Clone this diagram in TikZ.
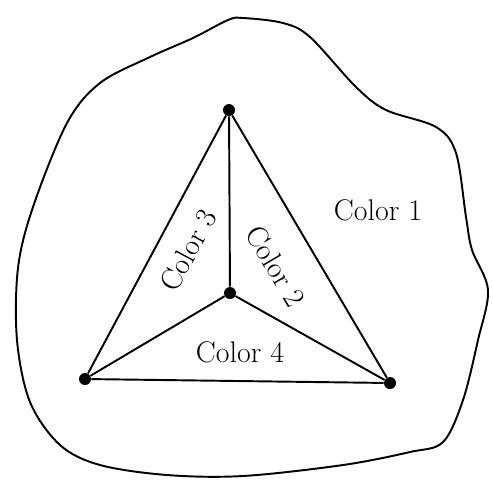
\documentclass[tikz,border=0pt]{standalone}
\usepackage{tikz}
\usetikzlibrary{positioning}
\tikzset{
    every node/.style={font=\fontsize{17}{20}\selectfont},
    vertex/.style={
        circle, fill=black, draw=none,
        minimum size=0.24cm, inner sep=0pt
    },
    edge/.style={
        line width=1.1pt, draw=black
    },
    regionlabel/.style={
        inner sep=1pt, text=black
    },
}

\begin{document}
\begin{tikzpicture}[x=0.02cm, y=-0.02cm]
    \useasboundingbox (0,0) rectangle (493,485);

    % Outer region
    \draw[line width=1.1pt] plot[smooth cycle, tension=0.55] coordinates {
        (243,18) (283,23) (310,37) (356,87) (386,110) (436,127) (456,153)
        (466,217) (472,250) (488,290) (478,340) (463,400) (443,442)
        (410,452) (343,465) (243,476) (167,475) (100,465) (60,445)
        (30,402) (17,340) (18,268) (33,207) (67,123) (100,83) (150,57)
        (193,38) (228,20)};

    % Nodes
    \node[vertex] (top) at (229,110) {};
    \node[vertex] (mid) at (230,293) {};
    \node[vertex] (left) at (85,379) {};
    \node[vertex] (right) at (390,383) {};

    % Edges
    \draw[edge] (top) -- (mid);
    \draw[edge] (top) -- (left);
    \draw[edge] (top) -- (right);
    \draw[edge] (mid) -- (left);
    \draw[edge] (mid) -- (right);
    \draw[edge] (left) -- (right);

    % Labels
    \node[regionlabel] (c1) at (378,210) {Color 1};
    \node[regionlabel, rotate=-59.5] (c2) at (276,266) {Color 2};
    \node[regionlabel, rotate=61.8] (c3) at (188,250) {Color 3};
    \node[regionlabel] (c4) at (240,352) {Color 4};
\end{tikzpicture}
\end{document}
